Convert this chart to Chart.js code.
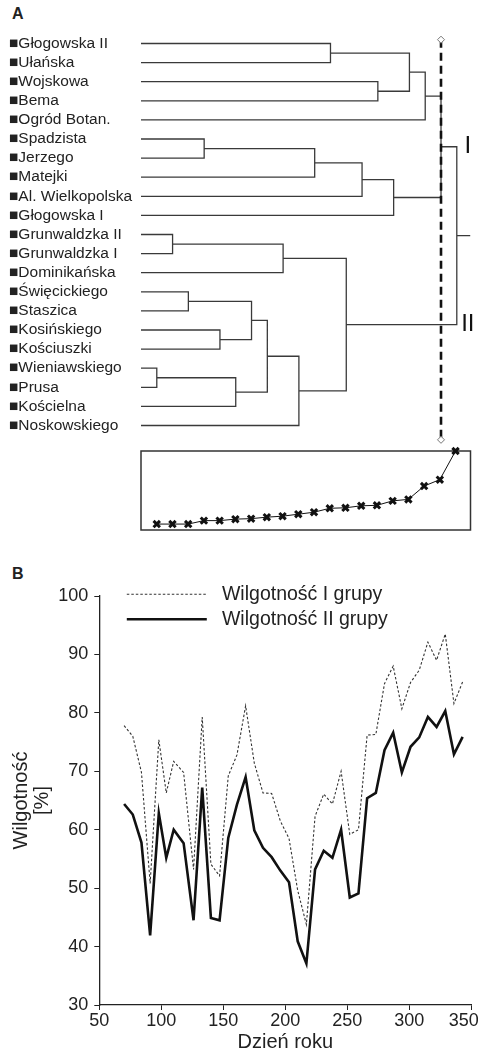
<!DOCTYPE html>
<html>
<head>
<meta charset="utf-8">
<script src="https://cdn.jsdelivr.net/npm/chart.js@4.4.1/dist/chart.umd.min.js"></script>
<style>
  html, body { margin: 0; padding: 0; background: #fff; }
  body { position: relative; width: 478px; height: 1054px; overflow: hidden; font-family: "Liberation Sans", Arial, sans-serif; color: #222; }
  canvas { position: absolute; left: 0; }
  .panel { position: absolute; left: 12px; font-weight: bold; line-height: 1; }
</style>
</head>
<body>
<div class="panel" style="top:6px;font-size:16px">A</div>
<canvas id="tree" width="478" height="450" style="top:0"></canvas>
<canvas id="steps" width="478" height="100" style="top:440px"></canvas>
<div class="panel" style="top:566px;font-size:16px">B</div>
<canvas id="humidity" width="478" height="494" style="top:560px"></canvas>
<script>
Chart.defaults.font.family = "'Liberation Sans', Arial, sans-serif";
Chart.defaults.color = "#222";

// ---------- Panel A: dendrogram ----------
const sites = [
  "Głogowska II", "Ułańska", "Wojskowa", "Bema", "Ogród Botan.",
  "Spadzista", "Jerzego", "Matejki", "Al. Wielkopolska", "Głogowska I",
  "Grunwaldzka II", "Grunwaldzka I", "Dominikańska", "Święcickiego", "Staszica",
  "Kosińskiego", "Kościuszki", "Wieniawskiego", "Prusa", "Kościelna", "Noskowskiego",
];
// merge order (step 1..20); ids 0-20 are sites, 21+ are earlier merges
const merges = [
  [17, 18], [10, 11], [13, 14], [5, 6], [15, 16],
  [21, 19], [23, 25], [27, 26], [22, 12], [28, 20],
  [24, 7], [0, 1], [29, 30], [31, 8], [2, 3],
  [34, 9], [32, 35], [37, 4], [38, 36], [39, 33],
];
// linkage distance at each step (inset)
const linkDist = [0.6, 0.6, 0.6, 0.95, 0.95, 1.1, 1.15, 1.3, 1.4, 1.6,
                  1.8, 2.2, 2.25, 2.45, 2.5, 2.95, 3.1, 4.45, 5.1, 8.0];
const cutStep = 19;
const groups = [["I", 39], ["II", 33]];

const nodes = sites.map((_, i) => ({ x: 0, y: i }));
const treePts = [];
merges.forEach(([a, b], k) => {
  const A = nodes[a], B = nodes[b], step = k + 1;
  treePts.push({ x: A.x, y: A.y }, { x: step, y: A.y }, { x: step, y: B.y }, { x: B.x, y: B.y }, { x: step, y: null });
  nodes.push({ x: step, y: (A.y + B.y) / 2 });
});
const root = nodes[nodes.length - 1];
treePts.push({ x: root.x, y: root.y }, { x: root.x + 0.85, y: root.y });

const cutPts = [{ x: cutStep, y: -0.2 }, { x: cutStep, y: sites.length - 0.25 }];

const groupLabels = {
  id: "groupLabels",
  afterDatasetsDraw(chart) {
    const { ctx, scales: { x, y } } = chart;
    ctx.save();
    ctx.fillStyle = "#111";
    ctx.font = "24px 'Liberation Sans', Arial, sans-serif";
    ctx.textAlign = "center";
    ctx.textBaseline = "middle";
    groups.forEach(([name, id]) => ctx.fillText(name, x.getPixelForValue(20.7), y.getPixelForValue(nodes[id].y)));
    ctx.restore();
  },
};

new Chart(document.getElementById("tree"), {
  type: "line",
  data: {
    datasets: [
      { data: cutPts, showLine: false, pointStyle: "rectRot", pointRadius: 3.5,
        pointBackgroundColor: "#fff", pointBorderColor: "#777", pointBorderWidth: 1 },
      { data: cutPts, borderColor: "#111", borderWidth: 2.6, borderDash: [8, 5], pointRadius: 0 },
      { data: treePts, borderColor: "#3a3a3a", borderWidth: 1.3, pointRadius: 0, borderJoinStyle: "miter" },
    ],
  },
  options: {
    responsive: false,
    animation: false,
    layout: { padding: { left: 9, right: 6.2, top: 24.4, bottom: 5.4 } },
    plugins: { legend: { display: false }, tooltip: { enabled: false } },
    scales: {
      x: { type: "linear", display: false, min: 0, max: 20.95 },
      y: {
        type: "linear", reverse: true, min: -1, max: 21,
        grid: { display: false }, border: { display: false },
        afterBuildTicks: (s) => { s.ticks = sites.map((_, i) => ({ value: i })); },
        afterFit: (s) => { s.width = 132; s.paddingTop = 0; s.paddingBottom = 0; },
        ticks: { autoSkip: false, crossAlign: "far", padding: 0, color: "#222", font: { size: 15.5 },
                 callback: (v) => "■" + sites[v] },
      },
    },
  },
  plugins: [groupLabels],
});

// inset: linkage distance vs step
const frame = {
  id: "frame",
  beforeDatasetsDraw(chart) {
    const { ctx, chartArea: a } = chart;
    ctx.save();
    ctx.strokeStyle = "#333";
    ctx.lineWidth = 1.5;
    ctx.strokeRect(a.left, a.top, a.right - a.left, a.bottom - a.top);
    ctx.restore();
  },
};

new Chart(document.getElementById("steps"), {
  type: "line",
  data: {
    datasets: [{
      data: linkDist.map((d, i) => ({ x: i + 1, y: d })),
      borderColor: "#111", borderWidth: 1, clip: false,
      pointStyle: "crossRot", pointRadius: 4.5, pointBorderWidth: 3, pointBorderColor: "#111",
    }],
  },
  options: {
    responsive: false,
    animation: false,
    layout: { padding: { left: 141, right: 6.2, top: 11, bottom: 10 } },
    plugins: { legend: { display: false }, tooltip: { enabled: false } },
    scales: {
      x: { type: "linear", display: false, min: 0, max: 20.95 },
      y: { type: "linear", display: false, min: 0, max: 8 },
    },
  },
  plugins: [frame],
});

// ---------- Panel B: humidity ----------
const days = [70, 77, 84, 91, 98, 104, 110, 118, 126, 133, 140, 147, 154, 161, 168, 175, 182, 189, 196, 203,
              210, 217, 224, 231, 238, 245, 252, 259, 266, 273, 280, 287, 294, 301, 308, 315, 322, 329, 336, 343];
const groupI = [77.8, 76.0, 69.8, 50.8, 75.4, 66.3, 71.7, 69.8, 53.2, 79.3, 54.1, 52.1, 69.2, 72.8, 81.2, 71.4, 66.3, 66.2, 61.5, 58.5,
                49.6, 43.8, 62.3, 66.1, 64.4, 70.0, 59.2, 60.0, 76.2, 76.3, 85.0, 88.0, 80.7, 85.2, 87.3, 92.1, 89.0, 93.5, 81.6, 85.3];
const groupII = [64.4, 62.6, 57.8, 41.9, 62.8, 55.2, 60.0, 57.7, 44.5, 67.2, 44.9, 44.5, 58.6, 64.3, 69.0, 59.9, 56.9, 55.3, 53.0, 51.0,
                 40.9, 37.1, 53.2, 56.4, 55.2, 60.0, 48.4, 49.1, 65.4, 66.3, 73.6, 76.6, 69.8, 74.2, 75.8, 79.3, 77.6, 80.3, 72.9, 75.9];
const seriesNames = ["Wilgotność I grupy", "Wilgotność II grupy"];

// vertical legend inside the plot, top-left
const legendInPlot = {
  id: "legendInPlot",
  afterLayout(chart) {
    chart.legend.left = chart.chartArea.left + 22;
    chart.legend.top = chart.chartArea.top - 17;
  },
};

const axisStyle = {
  grid: { display: true, drawOnChartArea: false, tickLength: 5, color: "#222" },
  border: { color: "#222", width: 1.3 },
};

new Chart(document.getElementById("humidity"), {
  type: "line",
  data: {
    datasets: [
      { label: seriesNames[0], data: days.map((d, i) => ({ x: d, y: groupI[i] })),
        borderColor: "#333", borderWidth: 1.1, borderDash: [2.5, 2], pointRadius: 0 },
      { label: seriesNames[1], data: days.map((d, i) => ({ x: d, y: groupII[i] })),
        borderColor: "#111", borderWidth: 2.6, pointRadius: 0 },
    ],
  },
  options: {
    responsive: false,
    animation: false,
    layout: { padding: { left: 6, right: 6.7, top: 36, bottom: 0 } },
    plugins: {
      tooltip: { enabled: false },
      legend: {
        position: "chartArea",
        align: "start",
        labels: {
          usePointStyle: true, pointStyle: "line", pointStyleWidth: 80,
          font: { size: 19.5 }, color: "#222", padding: 5.5,
          generateLabels: (chart) => Chart.defaults.plugins.legend.labels.generateLabels(chart).map((item) => {
            const ds = chart.data.datasets[item.datasetIndex];
            item.text = " " + item.text;
            item.lineDash = ds.borderDash || [];
            item.lineWidth = ds.borderWidth;
            return item;
          }),
        },
      },
    },
    scales: {
      x: {
        type: "linear", min: 50, max: 350,
        ticks: { stepSize: 50, font: { size: 18 }, color: "#222", padding: 0, maxRotation: 0,
                 callback: (v, i, t) => (i === t.length - 1 ? v + "   " : v) },
        ...axisStyle,
        title: { display: true, text: "Dzień roku", font: { size: 20, lineHeight: 1 }, color: "#222", padding: { top: 0, bottom: 2 } },
        afterFit: (s) => { s.height = 49; s.paddingRight = 0; },
      },
      y: {
        type: "linear", min: 30, max: 100,
        ticks: { stepSize: 10, font: { size: 18 }, color: "#222", padding: 6 },
        ...axisStyle,
        title: { display: true, text: ["Wilgotność", "[%]"], font: { size: 20, lineHeight: 1.05 }, color: "#222", padding: { top: 4.5, bottom: 0 } },
        afterFit: (s) => { s.width = 93.3; },
      },
    },
  },
  plugins: [legendInPlot],
});
</script>
</body>
</html>
